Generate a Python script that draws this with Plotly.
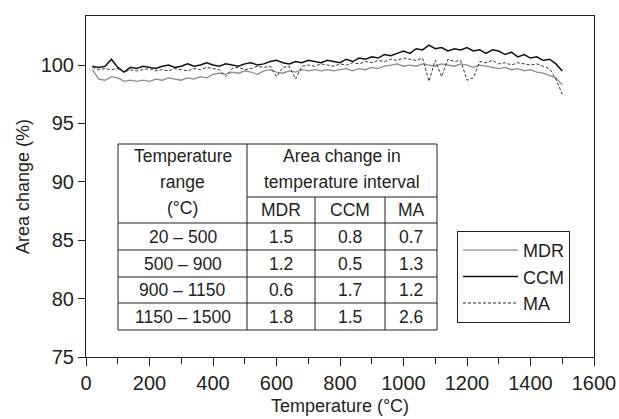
import plotly.graph_objects as go

# ---------------- data ----------------
temperature = [20, 40, 60, 80, 100, 120, 140, 160, 180, 200,
               220, 240, 260, 280, 300, 320, 340, 360, 380, 400,
               420, 440, 460, 480, 500, 520, 540, 560, 580, 600,
               620, 640, 660, 680, 700, 720, 740, 760, 780, 800,
               820, 840, 860, 880, 900, 920, 940, 960, 980, 1000,
               1020, 1040, 1060, 1080, 1100, 1120, 1140, 1160, 1180, 1200,
               1220, 1240, 1260, 1280, 1300, 1320, 1340, 1360, 1380, 1400,
               1420, 1440, 1460, 1480, 1500]

mdr = [99.6, 98.8, 98.7, 99.0, 98.9, 98.6, 98.7, 98.6, 98.7, 98.6,
       98.8, 98.7, 98.9, 98.8, 98.7, 98.9, 98.8, 99.0, 98.9, 99.2,
       99.3, 99.2, 99.4, 99.3, 99.5, 99.4, 99.2, 99.5, 99.6, 99.4,
       99.3, 99.5, 99.4, 99.6, 99.5, 99.6, 99.5, 99.6, 99.5, 99.6,
       99.7, 99.5, 99.7, 99.6, 99.8, 99.7, 99.9, 100.0, 100.1, 99.9,
       100.0, 99.9, 100.1, 100.0, 99.9, 100.1, 100.0, 99.9, 100.1, 100.0,
       99.8, 100.0, 99.9, 99.8, 99.7, 99.8, 99.6, 99.7, 99.5, 99.6,
       99.4, 99.3, 99.1, 98.9, 98.3]

ccm = [99.9, 99.8, 99.9, 100.5, 99.8, 99.4, 99.8, 99.7, 99.9, 99.8,
       99.7, 99.9, 100.0, 99.8, 99.9, 100.1, 99.9, 100.0, 100.2, 100.0,
       99.9, 100.1, 100.0, 99.9, 100.1, 100.2, 100.0, 100.1, 100.3, 100.4,
       100.2, 100.1, 100.3, 100.2, 100.4, 100.3, 100.2, 100.4, 100.3, 100.2,
       100.5, 100.3, 100.6, 100.5, 100.7, 100.6, 100.9, 100.8, 101.0, 101.2,
       101.0, 101.4, 101.3, 101.7, 101.4, 101.5, 101.2, 101.4, 101.3, 101.5,
       101.2, 101.3, 101.0, 101.3, 101.2, 100.9, 101.1, 100.7, 100.9, 100.6,
       100.7, 100.4, 100.5, 100.1, 99.5]

ma = [99.8, 99.6, 99.7, 99.6, 99.7, 99.4, 99.6, 99.5, 99.6, 99.7,
      99.5, 99.6, 99.5, 99.7, 99.6, 99.5, 99.7, 99.6, 99.8, 99.7,
      99.6, 99.0, 99.7, 99.8, 99.6, 99.7, 99.9, 99.8, 99.9, 99.0,
      99.8, 99.9, 98.8, 99.9, 100.0, 99.9, 100.1, 100.0, 99.9, 100.1,
      100.0, 100.2, 100.1, 100.3, 100.2, 100.4, 100.3, 100.5, 100.4, 100.6,
      100.5, 100.4, 100.6, 98.6, 100.4, 99.0, 100.5, 100.3, 100.4, 98.7,
      98.9, 100.3, 100.2, 100.4, 100.1, 100.2, 100.0, 100.2, 100.1, 100.0,
      100.1, 99.9, 99.7, 98.8, 97.5]

table_ranges = ["20 – 500", "500 – 900", "900 – 1150", "1150 – 1500"]
table_mdr = ["1.5", "1.2", "0.6", "1.8"]
table_ccm = ["0.8", "0.5", "1.7", "1.5"]
table_ma = ["0.7", "1.3", "1.2", "2.6"]
table_cols = ["MDR", "CCM", "MA"]

x_ticks = [0, 200, 400, 600, 800, 1000, 1200, 1400, 1600]
y_ticks = [75, 80, 85, 90, 95, 100]

# ---------------- figure ----------------
FONT = "Liberation Sans, Arial, Helvetica, sans-serif"
TXT = "#231f20"

fig = go.Figure()
fig.add_trace(go.Scatter(x=temperature, y=mdr, name="MDR", mode="lines",
                         line=dict(color="#8c8c8c", width=1.3)))
fig.add_trace(go.Scatter(x=temperature, y=ccm, name="CCM", mode="lines",
                         line=dict(color="#111111", width=1.5)))
fig.add_trace(go.Scatter(x=temperature, y=ma, name="MA", mode="lines",
                         line=dict(color="#333333", width=1, dash="3px,2px")))

W, H = 619, 419
L, R, T, B = 86, 25, 16, 62
pw, ph = W - L - R, H - T - B


def px2x(px):
    return (px - L) / pw


def py2y(py):
    return (H - B - py) / ph


# table geometry in pixels
col_edges = [118, 247, 315, 385, 437]
row_edges = [144, 197, 223, 250, 277, 303, 330]

shapes = []
line_style = dict(color="#231f20", width=1)
shapes.append(dict(type="rect", xref="paper", yref="paper",
                   x0=px2x(col_edges[0]), x1=px2x(col_edges[-1]),
                   y0=py2y(row_edges[-1]), y1=py2y(row_edges[0]),
                   line=line_style, fillcolor="white", layer="above"))
shapes.append(dict(type="line", xref="paper", yref="paper",
                   x0=px2x(col_edges[1]), x1=px2x(col_edges[1]),
                   y0=py2y(row_edges[-1]), y1=py2y(row_edges[0]), line=line_style))
for c in col_edges[2:4]:
    shapes.append(dict(type="line", xref="paper", yref="paper",
                       x0=px2x(c), x1=px2x(c),
                       y0=py2y(row_edges[-1]), y1=py2y(row_edges[1]), line=line_style))
shapes.append(dict(type="line", xref="paper", yref="paper",
                   x0=px2x(col_edges[1]), x1=px2x(col_edges[-1]),
                   y0=py2y(row_edges[1]), y1=py2y(row_edges[1]), line=line_style))
for r in row_edges[2:-1]:
    shapes.append(dict(type="line", xref="paper", yref="paper",
                       x0=px2x(col_edges[0]), x1=px2x(col_edges[-1]),
                       y0=py2y(r), y1=py2y(r), line=line_style))

annotations = []
TF = 17.5


def ann(text, xpx, ypx):
    annotations.append(dict(text=text, xref="paper", yref="paper",
                            x=px2x(xpx), y=py2y(ypx), xanchor="center", yanchor="middle",
                            showarrow=False, font=dict(family=FONT, size=TF, color=TXT)))


c1 = (col_edges[0] + col_edges[1]) / 2
c2 = (col_edges[1] + col_edges[-1]) / 2
ann("Temperature", c1, 156)
ann("range", c1, 182)
ann("(°C)", c1, 208)
ann("Area change in", c2, 156)
ann("temperature interval", c2, 182)
for i, name in enumerate(table_cols):
    ann(name, (col_edges[i + 1] + col_edges[i + 2]) / 2, (row_edges[1] + row_edges[2]) / 2)
for j in range(4):
    yc = (row_edges[j + 2] + row_edges[j + 3]) / 2
    vals = [table_ranges[j], table_mdr[j], table_ccm[j], table_ma[j]]
    for i, v in enumerate(vals):
        ann(v, (col_edges[i] + col_edges[i + 1]) / 2, yc)

fig.update_layout(
    width=W, height=H,
    margin=dict(l=L, r=R, t=T, b=B, autoexpand=False),
    paper_bgcolor="white", plot_bgcolor="white",
    font=dict(family=FONT, size=20, color=TXT),
    showlegend=True,
    legend=dict(x=px2x(457), y=py2y(323), xanchor="left", yanchor="bottom",
                bgcolor="white", bordercolor="#231f20", borderwidth=1,
                font=dict(family=FONT, size=18, color=TXT),
                tracegroupgap=0, itemwidth=55),
    shapes=shapes,
    annotations=annotations,
)
fig.update_xaxes(range=[0, 1600], tickvals=x_ticks, ticks="outside", ticklen=8,
                 tickcolor="#231f20", showline=True, linecolor="#231f20", linewidth=1,
                 mirror=True, showgrid=False, zeroline=False, automargin=False,
                 ticklabeloverflow="allow",
                 minor=dict(dtick=100, ticks="outside", ticklen=6, tickcolor="#231f20", showgrid=False),
                 title=dict(text="Temperature (°C)", standoff=6, font=dict(size=18)),
                 tickfont=dict(size=20))
fig.update_yaxes(range=[75, 104.2], tickvals=y_ticks, ticks="outside", ticklen=7,
                 tickcolor="#231f20", showline=True, linecolor="#231f20", linewidth=1,
                 mirror=True, showgrid=False, zeroline=False, automargin=False,
                 title=dict(text="Area change (%)", standoff=6, font=dict(size=18)),
                 tickfont=dict(size=20))

fig.write_html("out.html", config={"displayModeBar": False},
               post_script="document.body.style.margin='0';")
